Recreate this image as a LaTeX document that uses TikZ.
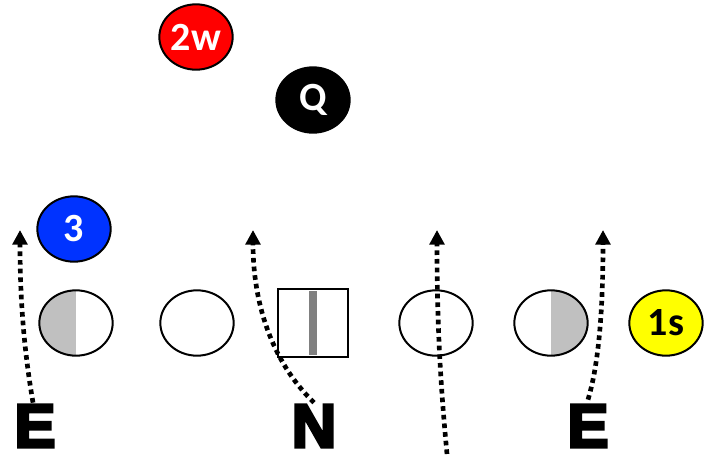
\documentclass[tikz,border=0pt]{standalone}
\usepackage{fontspec}
\setmainfont{Carlito}
\newfontfamily\heavyfont[FakeBold=5]{Liberation Sans Bold}
\usepackage{tikz}
\usetikzlibrary{shapes.geometric}
\usetikzlibrary{arrows.meta}

\definecolor{playred}{RGB}{255,0,0}
\definecolor{playblue}{RGB}{0,51,255}
\definecolor{playyellow}{RGB}{255,255,0}
\definecolor{halfgray}{RGB}{192,192,192}
\definecolor{bargray}{RGB}{128,128,128}

\tikzset{
  player/.style = {ellipse, draw = black, line width = 1.5pt, minimum width = 55pt,
    minimum height = 49pt, inner sep = 0pt, font = \fontsize{30}{30}\selectfont\bfseries},
  defletter/.style = {inner sep = 0pt, font = \heavyfont\fontsize{46}{46}\selectfont},
  route/.style = {line width = 3.5pt, dash pattern = on 3.5pt off 3pt,
    -{Triangle[width = 11pt, length = 11pt]}}
}

\begin{document}
\begin{tikzpicture}[x = 0.75pt, y = -0.75pt]
		\useasboundingbox (0,0) rectangle (710,454);
		% Backfield
		\node [player, fill = playred, text = white] (wing) at (196,37) {2w};
		\node [player, fill = black, text = white] (qb) at (313,100) {Q};
		\node [player, fill = playblue, text = white] (three) at (74,229) {3};
		% Offensive line
		\node [player, path picture = {\fill [halfgray] (path picture bounding box.north west) rectangle (path picture bounding box.south);}] (lt) at (76,323) {};
		\node [player] (lg) at (197,323) {};
		\node [draw = black, line width = 1.5pt, minimum width = 52.5pt, minimum height = 51pt] (ctr) at (313,323) {};
		\fill [bargray] (309,291) rectangle (317,355);
		\node [player] (rg) at (436,323) {};
		\node [player, path picture = {\fill [halfgray] (path picture bounding box.north east) rectangle (path picture bounding box.south);}] (rt) at (551,323) {};
		\node [player, fill = playyellow, text = black] (slot) at (666,323) {1s};
		% Defenders
		\node [defletter] (endl) at (35,426) {E};
		\node [defletter] (nose) at (314,426) {N};
		\node [defletter] (endr) at (588,426) {E};
		% Route ends
		\coordinate (tipl) at (20,230);
		\coordinate (tipn) at (253,230);
		\coordinate (tipm) at (437,230);
		\coordinate (tipr) at (603,230);
		\coordinate (startm) at (447,454);
		% Rush paths
		\draw [route] (endl.north) ++(-2,-2) .. controls (24,350) and (20,300) .. (tipl);
		\draw [route] (nose.north) ++(0,-2) .. controls (270,360) and (253,300) .. (tipn);
		\draw [route] (startm) .. controls (440,380) and (437,320) .. (tipm);
		\draw [route] (endr.north) ++(0,-5) .. controls (600,360) and (603,300) .. (tipr);
\end{tikzpicture}
\end{document}
